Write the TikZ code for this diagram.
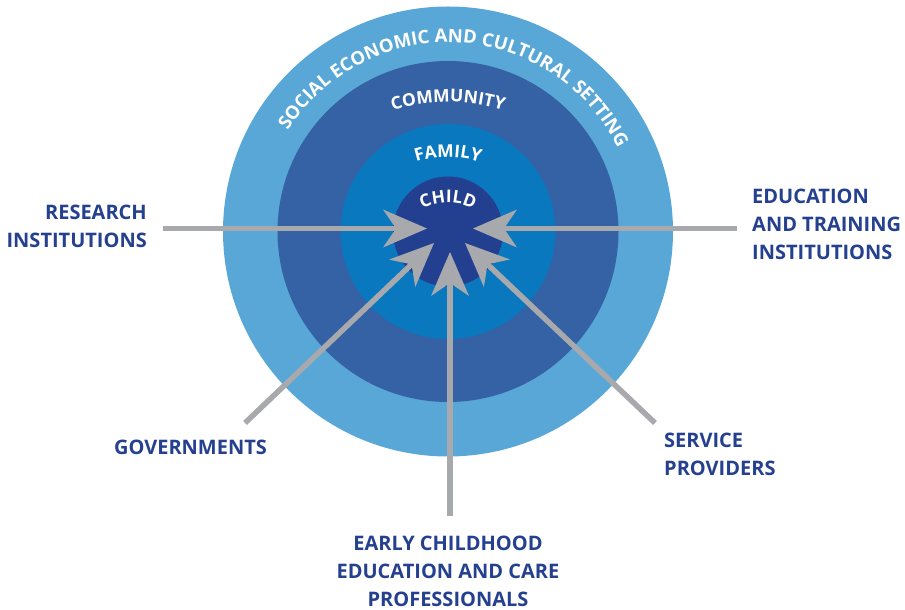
\documentclass[tikz,border=0pt]{standalone}
\usepackage{fontspec}
\setmainfont{Open Sans}
\usetikzlibrary{arrows.meta,decorations.text,calc}
\definecolor{ringA}{RGB}{88,167,214}
\definecolor{ringB}{RGB}{53,97,165}
\definecolor{ringC}{RGB}{10,120,191}
\definecolor{ringD}{RGB}{35,63,143}
\definecolor{arrgray}{RGB}{167,169,172}
\definecolor{labblue}{RGB}{36,64,143}
\begin{document}
\begin{tikzpicture}[x=1pt,y=1pt,
  ring/.style={circle, inner sep=0pt, draw=none},
  lab/.style={font=\fontsize{20}{28}\selectfont\bfseries, text=labblue, inner sep=0pt},
  arr/.style={draw=arrgray, line width=5.5pt, -{Stealth[length=44pt,width=38pt,inset=13pt,line width=0pt]}}]
\useasboundingbox (0,0) rectangle (905,610);
\coordinate (c) at (448,378.5);
\node[ring, fill=ringA, minimum size=450pt] (setting) at (c) {};
\node[ring, fill=ringB, minimum size=341pt] (community) at (c) {};
\node[ring, fill=ringC, minimum size=215pt] (family) at (c) {};
\node[ring, fill=ringD, minimum size=110pt] (child) at (c) {};
% curved texts
\coordinate (cs) at (448,378.5);
\path[decorate, decoration={text along path, text align=center, text color=white,
  text={|\fontsize{18.5}{18.5}\selectfont\bfseries|SOCIAL ECONOMIC AND CULTURAL SETTING}}]
  ($(cs)+(177:189)$) arc[start angle=177, end angle=-3, radius=189];
\coordinate (cc) at (448,318);
\path[decorate, decoration={text along path, text align=center, text color=white,
  text={|\fontsize{17.5}{17.5}\selectfont\bfseries|COMMUNITY}}]
  ($(cc)+(150:190)$) arc[start angle=150, end angle=30, radius=190];
\coordinate (cf) at (448,348);
\path[decorate, decoration={text along path, text align=center, text color=white,
  text={|\fontsize{17.5}{17.5}\selectfont\bfseries|FAMILY}}]
  ($(cf)+(170:105)$) arc[start angle=170, end angle=10, radius=105];
\coordinate (ch) at (448,349);
\path[decorate, decoration={text along path, text align=center, text color=white,
  text={|\fontsize{17.5}{17.5}\selectfont\bfseries|CHILD}}]
  ($(ch)+(175:58)$) arc[start angle=175, end angle=5, radius=58];
% labels
\node[lab, align=right, anchor=east] (research) at (147,383.5) {RESEARCH\\INSTITUTIONS};
\node[lab, align=left, anchor=west] (edu) at (752,386) {EDUCATION\\AND TRAINING\\INSTITUTIONS};
\node[lab, align=center] (gov) at (190.5,163) {GOVERNMENTS};
\node[lab, align=left, anchor=west] (serv) at (664,155.5) {SERVICE\\PROVIDERS};
\node[lab, align=center] (ecec) at (448,38.5) {EARLY CHILDHOOD\\EDUCATION AND CARE\\PROFESSIONALS};
% arrows
\coordinate (rs) at (163,381.5);
\coordinate (rt) at (427,381.5);
\coordinate (es) at (737,381.5);
\coordinate (et) at (473,381.5);
\coordinate (bs) at (450,94);
\coordinate (bt) at (450,358);
\coordinate (gs) at (245,187);
\coordinate (gt) at (434,367);
\coordinate (ss) at (655,187);
\coordinate (st) at (465,367);
\draw[arr] (rs) -- (rt);
\draw[arr] (es) -- (et);
\draw[arr] (bs) -- (bt);
\draw[arr] (gs) -- (gt);
\draw[arr] (ss) -- (st);
\end{tikzpicture}
\end{document}
